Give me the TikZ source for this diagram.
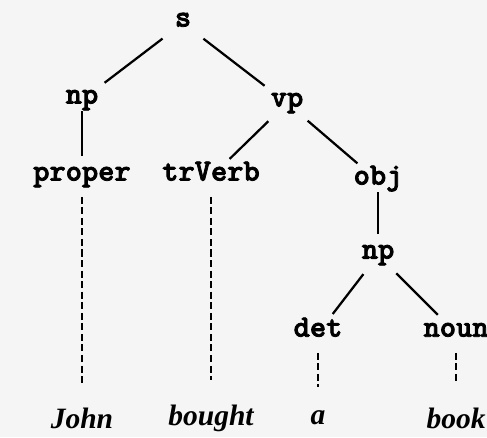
\documentclass[tikz,border=0pt]{standalone}
\usepackage{fontspec}
\setmainfont{Liberation Serif}
\newfontfamily\catfont{lmmonolt10-bold.otf}[FakeBold=2.5]
\usetikzlibrary{positioning}

\begin{document}
\begin{tikzpicture}[
    x=0.025cm,
    y=-0.025cm,
    node distance=2cm,
    on grid,
    cat/.style={
        font=\fontsize{22}{26}\selectfont\catfont,
        inner sep=3pt,
        text height=1.6ex,
        text depth=0.5ex
    },
    word/.style={
        font=\fontsize{21}{24}\selectfont\bfseries\itshape,
        inner sep=3pt
    },
    branch/.style={line width=1.6pt, shorten <=7pt, shorten >=7pt},
    lex/.style={line width=1.5pt, dash pattern=on 5pt off 2.5pt,
        shorten <=6pt, shorten >=0.5cm}
]

% ============================================================
% PAGE
% ============================================================
\fill[black!4] (0,0) rectangle (487,437);
\useasboundingbox (0,0) rectangle (487,437);

% ============================================================
% PARSE TREE
% ============================================================
\node[cat] (s) at (183,23) {s};
\node[cat, below left=1.925cm and 2.525cm of s] (np) {np};
\node[cat, below right=2.0cm and 2.6cm of s] (vp) {vp};
\node[cat, below=1.925cm of np] (proper) {proper};
\node[cat, below left=1.85cm and 1.9cm of vp] (trverb) {trVerb};
\node[cat, below right=1.95cm and 2.275cm of vp] (obj) {obj};
\node[cat, below=1.85cm of obj] (objnp) {np};
\node[cat, below left=1.95cm and 1.5cm of objnp] (det) {det};
\node[cat, below right=1.95cm and 1.95cm of objnp] (noun) {noun};

\draw[branch] (s) -- (np);
\draw[branch] (s) -- (vp);
\draw[branch, shorten <=0pt] (np) -- (proper);
\draw[branch] (vp) -- (trverb);
\draw[branch] (vp) -- (obj);
\draw[branch, shorten <=0pt] (obj) -- (objnp);
\draw[branch] (objnp) -- (det);
\draw[branch] (objnp) -- (noun);

% ============================================================
% WORDS
% ============================================================
\node[word, below=6.025cm of proper] (john) {John};
\node[word, below=6.025cm of trverb] (bought) {bought};
\node[word, below=2.125cm of det] (a) {a};
\node[word, below=2.125cm of noun] (book) {book};

\draw[lex] (proper) -- (john);
\draw[lex] (trverb) -- (bought);
\draw[lex] (det) -- (a);
\draw[lex] (noun) -- (book);

\end{tikzpicture}
\end{document}
